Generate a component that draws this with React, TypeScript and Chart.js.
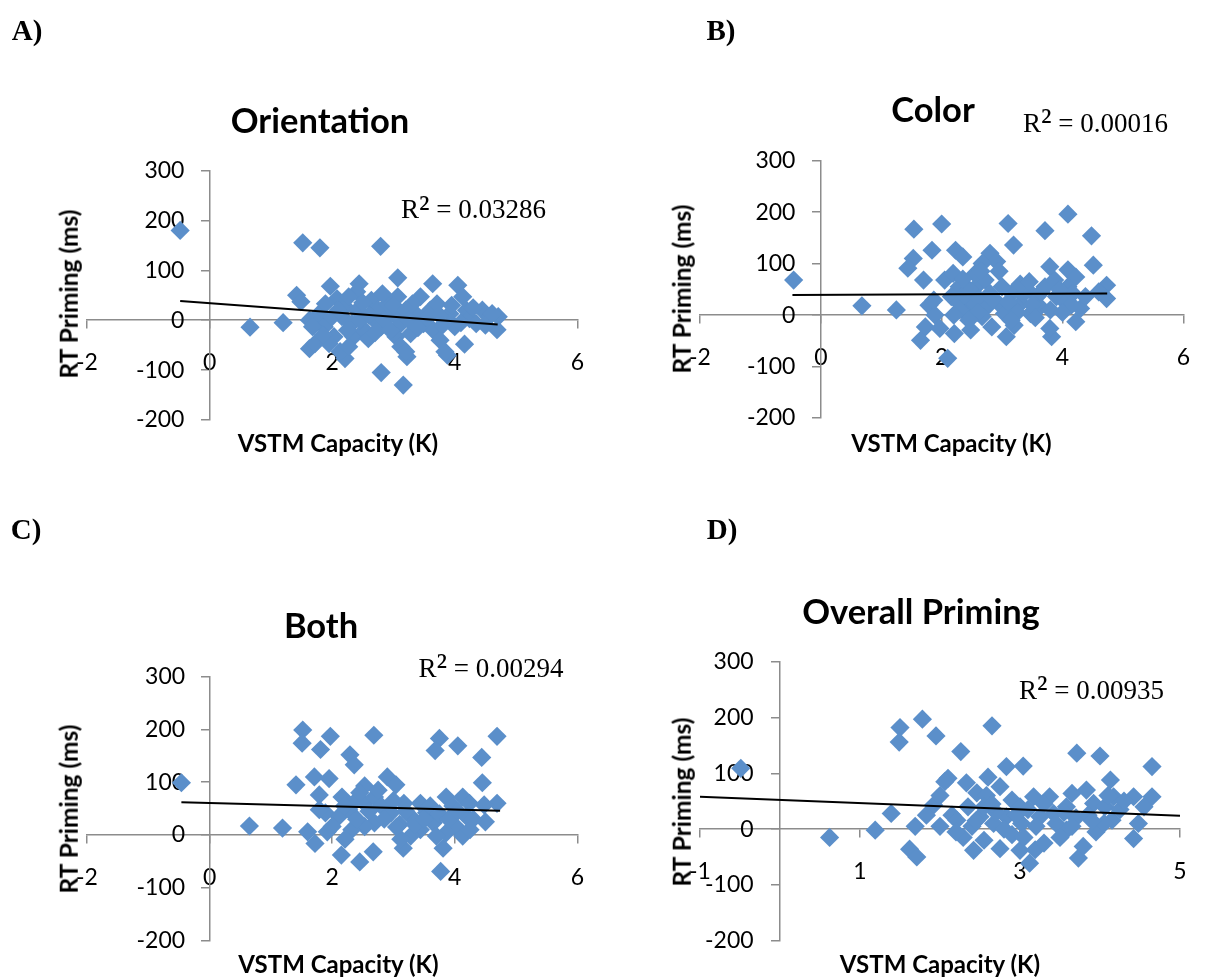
import React, { useEffect, useRef } from "react";
import { Chart, registerables } from "chart.js";

Chart.register(...registerables);

// ---------- DATA ----------
// Panel A – Orientation
const orientationK = [
  -0.48, 0.66, 1.2, 1.52, 1.8, 2.79, 1.42, 1.49, 1.97, 2.44, 3.07, 3.64, 4.05, 1.63, 1.72, 2.21, 2.13, 2.8, 3.16,
  4.16, 4.71, 4.69, 4.45, 3.22, 3.88, 1.79, 1.73, 1.87, 2.03, 1.95, 2.08, 2.21, 2.16, 2.32, 2.35, 2.27, 2.53, 2.59,
  2.64, 2.75, 2.69, 2.91, 2.99, 3.07, 3.12, 3.04, 3.12, 3.2, 3.28, 3.36, 3.44, 3.49, 3.6, 3.71, 3.65, 3.76, 3.84,
  3.92, 4.0, 4.13, 4.19, 4.24, 4.35, 4.56, 4.61, 1.63, 1.68, 1.89, 2.0, 2.4, 2.27, 2.82, 3.31, 2.41, 2.8,
  2.1, 2.25, 2.45, 2.6, 2.7, 2.85, 2.95, 3.0, 3.2, 3.25, 3.4, 3.55, 3.75, 3.8, 3.95, 4.1, 4.3, 4.5, 2.5, 1.85,
];
const orientationRT = [
  180, -14, -5, 155, 145, 148, 50, 37, 68, 73, 85, 73, 70, -57, -47, -77, -63, -105, -130,
  -48, 7, -19, 20, -73, -70, 13, -3, -13, -33, -47, 43, 27, 7, -7, -33, -53, -20, -37,
  40, 20, 0, 33, 13, 47, -7, -33, -53, -63, -27, 13, 47, -7, 20, 33, -20, -40, -63,
  13, -13, 47, 20, 3, -7, 7, 13, 0, -13, 33, 7, 57, 47, 53, 33, 20, -13,
  20, -20, 0, 10, -25, 0, -20, 30, 20, 0, -15, 5, 10, -10, 30, -5, 25, -10, 35, -30,
];
const orientationTrendK = [-0.48, 4.7];
const orientationTrendRT = [38.6, -8.6];

// Panel B – Color
const colorK = [
  -0.45, 0.68, 1.25, 1.54, 2.0, 3.1, 3.71, 4.09, 4.48, 3.19, 1.84, 2.23, 1.53, 1.44, 2.35, 2.8, 2.91, 2.67, 4.51,
  1.7, 3.79, 4.09, 4.22, 4.73, 4.73, 1.79, 1.89, 1.73, 1.65, 1.97, 2.21, 2.48, 2.83, 3.07, 2.1, 3.82, 3.79, 4.22,
  4.3, 3.2, 3.47, 2.05, 2.19, 2.29, 2.16, 2.29, 2.4, 2.51, 2.57, 2.62, 2.75, 2.72, 2.8, 2.94, 3.16, 3.18, 3.04,
  3.31, 3.42, 3.58, 3.63, 3.71, 3.87, 3.9, 4.01, 4.09, 4.17, 4.38, 4.6, 2.4, 2.67, 1.87,
  2.3, 2.45, 2.6, 2.85, 3.0, 3.1, 3.25, 3.35, 3.5, 3.65, 3.8, 3.95, 4.15, 2.2, 2.55, 3.3, 2.95, 4.0,
  2.35, 2.65, 3.45, 3.15, 3.55, 2.45,
];
const colorRT = [
  68, 18, 10, 167, 177, 178, 164, 196, 154, 136, 126, 126, 110, 91, 113, 120, 104, 100, 97,
  68, 94, 88, 74, 58, 32, 19, 0, -23, -49, -26, -36, -29, -23, -42, -84, -42, -26, -13,
  13, -20, 3, 68, 81, 55, 36, 23, 36, 16, 55, 32, 16, 68, 42, 23, 42, 16, 3,
  23, 49, 36, 16, 55, 68, 36, 29, 55, 42, 36, 45, 3, -3, 29,
  10, 50, 5, 30, 55, 25, 5, 40, 20, 45, 10, 50, 20, 0, 80, 60, 85, 5,
  70, 85, 65, -10, -5, -10,
];
const colorTrendK = [-0.47, 4.74];
const colorTrendRT = [39, 42];

// Panel C – Both
const bothK = [
  -0.46, 0.65, 1.19, 1.52, 1.51, 1.97, 1.81, 2.68, 2.29, 2.36, 3.75, 3.68, 4.05, 4.69, 4.44, 4.45, 1.41, 1.71, 1.95,
  1.79, 1.6, 1.72, 1.92, 2.15, 2.45, 2.67, 3.16, 3.77, 3.81, 4.5, 4.69, 4.48, 2.9, 3.04, 2.53, 2.16, 2.37, 2.53,
  2.69, 2.8, 2.96, 3.17, 3.28, 3.44, 3.54, 3.65, 3.86, 3.97, 4.13, 4.19, 4.02, 3.86, 3.7, 3.44, 3.28, 3.12, 2.69,
  2.53, 2.32, 2.21, 2.11, 1.89, 1.79, 2.0, 4.24, 4.13, 2.27,
  2.4, 2.6, 2.75, 2.85, 3.0, 3.1, 3.2, 3.35, 3.5, 3.6, 3.75, 3.9, 4.05, 4.3, 2.45, 3.05, 2.2, 4.25,
];
const bothRT = [
  99, 17, 13, 199, 174, 187, 162, 189, 152, 133, 183, 160, 169, 187, 147, 99, 95, 110, 107,
  76, 6, -16, 6, -38, -51, -32, -25, -69, -25, 25, 60, 57, 110, 95, 93, 72, 63, 60,
  72, 55, 42, 60, 35, 60, 42, 23, 72, 55, 72, 35, 16, 4, -2, 10, -2, -8, 23,
  16, 10, -8, 35, 42, 48, 16, 60, -2, 48,
  30, 45, 85, 30, 65, 20, 45, 20, 30, 55, 40, 30, 45, 30, 80, 15, 55, 10,
];
const bothTrendK = [-0.46, 4.74];
const bothTrendRT = [62, 46];

// Panel D – Overall Priming
const overallK = [
  -0.49, 0.62, 1.19, 1.39, 1.5, 1.49, 1.78, 1.95, 2.65, 2.26, 1.62, 1.71, 3.71, 4.0, 4.13, 4.65, 2.83, 3.04, 2.1,
  2.33, 2.6, 2.75, 2.06, 1.92, 1.69, 1.83, 2.0, 2.15, 2.29, 2.42, 2.46, 2.58, 2.67, 2.75, 2.9, 3.0, 3.02, 3.12,
  3.19, 3.17, 3.37, 3.42, 3.58, 3.65, 3.73, 3.79, 3.83, 3.92, 4.06, 4.17, 4.15, 4.42, 4.48, 4.42, 4.65, 3.58, 3.25,
  2.83, 2.5, 2.21, 3.0,
  2.35, 2.55, 2.7, 2.8, 2.95, 3.1, 3.2, 3.3, 3.45, 3.5, 3.7, 3.85, 3.95, 4.05, 4.25, 2.4, 3.65, 2.55,
  2.2, 2.45, 2.65, 2.9, 3.05, 3.3, 3.55, 3.9, 4.1, 4.3, 4.55, 2.0,
];
const overallRT = [
  109, -15, -2, 28, 182, 156, 197, 167, 185, 139, -36, -50, 136, 131, 88, 112, 112, 113, 91,
  83, 93, 76, 85, 43, 5, 25, 5, 25, -15, -38, 65, 60, 10, -35, 52, -38, 10, -61,
  -37, 58, 58, 28, -2, 64, -52, -31, 70, 46, 40, 58, 16, 58, 10, -17, 58, 40, 22,
  22, 22, 16, 40,
  40, 40, 30, 0, 25, 35, 5, 45, 10, -15, 20, 25, -5, 10, 35, 5, 5, -20,
  -5, 15, 45, -10, -15, -25, 30, 15, 60, 50, 40, 60,
];
const overallTrendK = [-1, 5];
const overallTrendRT = [58, 24];

// Tick labels
const xTicksABC = [-2, 0, 2, 4, 6];
const xTicksD = [-1, 1, 3, 5];
const yTicks = [-200, -100, 0, 100, 200, 300];

// ---------- STYLE ----------
const BLUE = "#5b8fca";
const AXIS_GRAY = "#8c8c8c";
const SANS = "Lato, 'Open Sans', sans-serif";
const SERIF = "'Liberation Serif', 'DejaVu Serif', serif";

type PanelSpec = {
  letter: string;
  title: string;
  r2: string;
  xs: number[];
  ys: number[];
  trendX: number[];
  trendY: number[];
  xTicks: number[];
  box: { left: number; top: number; width: number; height: number };
  area: { left: number; top: number; right: number; bottom: number };
  labelGap: number;
  letterPos: [number, number];
  titlePos: [number, number];
  r2Pos: [number, number];
  xTitlePos: [number, number];
  yTitlePos: [number, number];
};

const panels: PanelSpec[] = [
  {
    letter: "A)", title: "Orientation", r2: "0.03286",
    xs: orientationK, ys: orientationRT, trendX: orientationTrendK, trendY: orientationTrendRT, xTicks: xTicksABC,
    box: { left: 0, top: 0, width: 605, height: 489 },
    area: { left: 87, top: 170.5, right: 587, bottom: 420 },
    labelGap: 0.41,
    letterPos: [27, 30], titlePos: [320, 119.5], r2Pos: [401, 209],
    xTitlePos: [338, 442.5], yTitlePos: [69, 294],
  },
  {
    letter: "B)", title: "Color", r2: "0.00016",
    xs: colorK, ys: colorRT, trendX: colorTrendK, trendY: colorTrendRT, xTicks: xTicksABC,
    box: { left: 605, top: 0, width: 606, height: 489 },
    area: { left: 700, top: 160.7, right: 1198, bottom: 418 },
    labelGap: 0.42,
    letterPos: [721, 30], titlePos: [933, 109.3], r2Pos: [1023, 122.7],
    xTitlePos: [951.5, 442.8], yTitlePos: [682, 289],
  },
  {
    letter: "C)", title: "Both", r2: "0.00294",
    xs: bothK, ys: bothRT, trendX: bothTrendK, trendY: bothTrendRT, xTicks: xTicksABC,
    box: { left: 0, top: 489, width: 605, height: 489 },
    area: { left: 87, top: 676.7, right: 588, bottom: 940.5 },
    labelGap: 0.4,
    letterPos: [26, 529], titlePos: [321, 625.3], r2Pos: [418.5, 667.7],
    xTitlePos: [338.5, 964], yTitlePos: [69, 809],
  },
  {
    letter: "D)", title: "Overall Priming", r2: "0.00935",
    xs: overallK, ys: overallRT, trendX: overallTrendK, trendY: overallTrendRT, xTicks: xTicksD,
    box: { left: 605, top: 489, width: 606, height: 489 },
    area: { left: 700, top: 661.7, right: 1180, bottom: 940.7 },
    labelGap: 0.33,
    letterPos: [722, 529], titlePos: [921, 610.5], r2Pos: [1019, 689.5],
    xTitlePos: [940, 964], yTitlePos: [682, 802],
  },
];

const tickFont = { family: SANS, size: 23 };

function PanelChart({ spec }: { spec: PanelSpec }) {
  const ref = useRef<HTMLCanvasElement | null>(null);
  useEffect(() => {
    if (!ref.current) return;
    const { box, area } = spec;
    const points = spec.xs.map((x, i) => ({ x, y: spec.ys[i] }));
    const trend = spec.trendX.map((x, i) => ({ x, y: spec.trendY[i] }));
    const xMin = spec.xTicks[0];
    const xMax = spec.xTicks[spec.xTicks.length - 1];
    const yMin = yTicks[0];
    const yMax = yTicks[yTicks.length - 1];
    const setTicks = (vals: number[]) => (scale: any) => {
      scale.ticks = vals.map((v) => ({ value: v }));
    };
    const chart = new Chart(ref.current, {
      type: "scatter",
      data: {
        datasets: [
          {
            type: "line",
            data: trend,
            borderColor: "#000000",
            borderWidth: 2,
            pointRadius: 0,
            fill: false,
            tension: 0,
            showLine: true,
            order: 0,
            xAxisID: "x",
            yAxisID: "y",
          } as any,
          {
            type: "scatter",
            data: points,
            pointStyle: "rectRot",
            pointRadius: 9.6,
            backgroundColor: BLUE,
            borderColor: BLUE,
            borderWidth: 0,
            order: 1,
            xAxisID: "x",
            yAxisID: "y",
          } as any,
        ],
      },
      options: {
        responsive: false,
        animation: false,
        devicePixelRatio: 1,
        events: [],
        layout: {
          padding: {
            left: area.left - box.left,
            top: area.top - box.top,
            right: box.left + box.width - area.right,
            bottom: box.top + box.height - area.bottom,
          },
        },
        plugins: {
          legend: { display: false },
          tooltip: { enabled: false },
          title: { display: false },
        },
        scales: {
          x: {
            type: "linear",
            min: xMin,
            max: xMax,
            position: { y: 0 } as any,
            afterBuildTicks: setTicks(spec.xTicks),
            grid: { display: true, drawOnChartArea: false, drawTicks: true, tickLength: 8, color: AXIS_GRAY, lineWidth: 1.5 },
            border: { display: true, color: AXIS_GRAY, width: 1.5 },
            ticks: { padding: 21, font: tickFont, color: "#000000", maxRotation: 0, autoSkip: false },
          },
          y: {
            type: "linear",
            min: yMin,
            max: yMax,
            position: { x: 0 } as any,
            afterBuildTicks: setTicks(yTicks),
            grid: { display: true, drawOnChartArea: false, drawTicks: true, tickLength: 8, color: AXIS_GRAY, lineWidth: 1.5 },
            border: { display: true, color: AXIS_GRAY, width: 1.5 },
            ticks: { display: false },
          },
          yLabels: {
            type: "linear",
            axis: "y",
            min: yMin,
            max: yMax,
            position: { x: -spec.labelGap } as any,
            afterBuildTicks: setTicks(yTicks),
            grid: { display: false, drawTicks: false, drawOnChartArea: false },
            border: { display: false },
            ticks: { padding: 0, font: tickFont, color: "#000000", autoSkip: false },
          } as any,
        },
      },
    });
    return () => chart.destroy();
  }, [spec]);
  return (
    <canvas
      ref={ref}
      width={spec.box.width}
      height={spec.box.height}
      style={{ position: "absolute", left: spec.box.left, top: spec.box.top, width: spec.box.width, height: spec.box.height }}
    />
  );
}

function Text({ pos, children, style, anchor = "center", rotate = false }: any) {
  const transform =
    (anchor === "left" ? "translate(0,-50%)" : "translate(-50%,-50%)") + (rotate ? " rotate(-90deg)" : "");
  return (
    <div
      style={{
        position: "absolute",
        left: pos[0],
        top: pos[1],
        transform,
        transformOrigin: anchor === "left" ? "0 50%" : "50% 50%",
        whiteSpace: "nowrap",
        lineHeight: 1,
        color: "#000",
        ...style,
      }}
    >
      {children}
    </div>
  );
}

export default function App() {
  return (
    <div style={{ position: "absolute", left: 0, top: 0, width: 1211, height: 978, background: "#ffffff", overflow: "hidden" }}>
      {panels.map((p) => (
        <React.Fragment key={p.letter}>
          <PanelChart spec={p} />
          <Text pos={p.letterPos} style={{ fontFamily: SERIF, fontWeight: 700, fontSize: 29 }}>{p.letter}</Text>
          <Text pos={p.titlePos} style={{ fontFamily: SANS, fontWeight: 700, fontSize: 34.5 }}>{p.title}</Text>
          <Text pos={p.r2Pos} anchor="left" style={{ fontFamily: SERIF, fontSize: 27 }}>
            R<span style={{ fontSize: "1.3em", lineHeight: 0, position: "relative", top: "0.05em" }}>²</span> = {p.r2}
          </Text>
          <Text pos={p.xTitlePos} style={{ fontFamily: SANS, fontWeight: 700, fontSize: 24 }}>VSTM Capacity (K)</Text>
          <Text pos={p.yTitlePos} rotate style={{ fontFamily: SANS, fontWeight: 700, fontSize: 24.5 }}>RT Priming (ms)</Text>
        </React.Fragment>
      ))}
    </div>
  );
}
